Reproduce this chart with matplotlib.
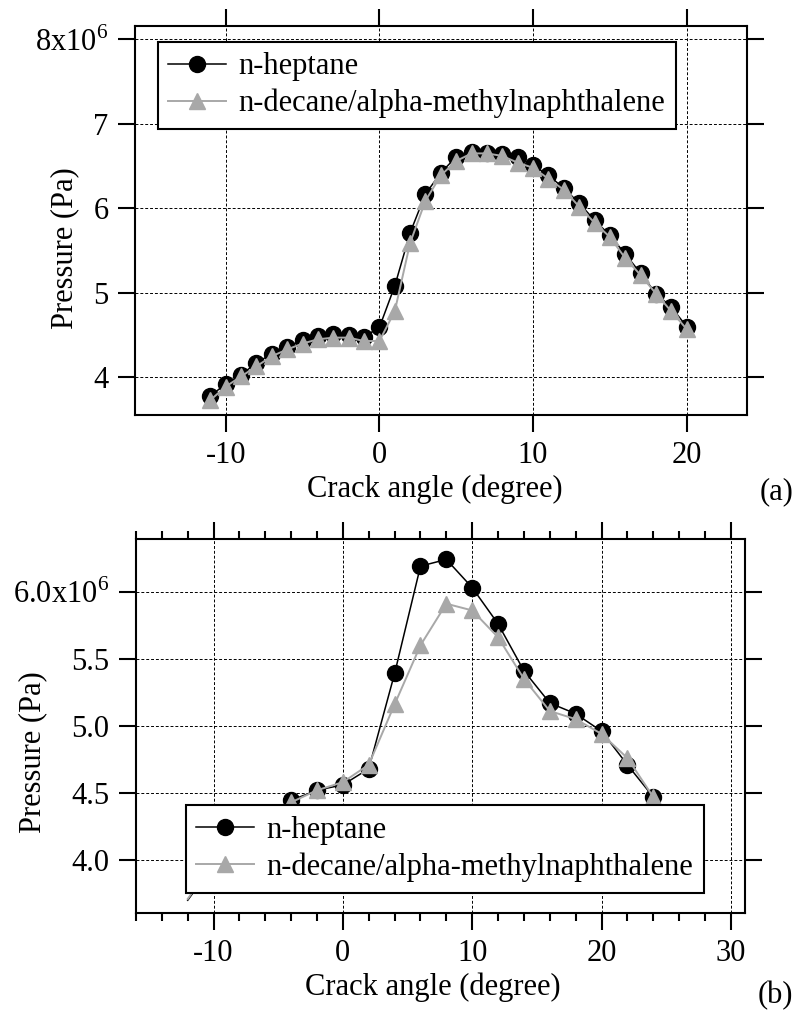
import matplotlib
matplotlib.use("Agg")
import matplotlib.pyplot as plt
from matplotlib.ticker import MultipleLocator, FixedLocator

plt.rcParams['font.family'] = ['Liberation Serif', 'DejaVu Serif']
plt.rcParams['mathtext.fontset'] = 'custom'
plt.rcParams['mathtext.rm'] = 'Liberation Serif'
plt.rcParams['axes.unicode_minus'] = False

# panel (a) data, pressure in units of 1e6 Pa
angle_a = [-11, -10, -9, -8, -7, -6, -5, -4, -3, -2, -1, 0, 1, 2, 3, 4,
           5, 6, 7, 8, 9, 10, 11, 12, 13, 14, 15, 16, 17, 18, 19, 20]
heptane_a = [3.78, 3.92, 4.03, 4.17, 4.28, 4.36, 4.44, 4.49, 4.51, 4.50, 4.48,
             4.59, 5.08, 5.71, 6.17, 6.42, 6.61, 6.67, 6.65, 6.64, 6.61, 6.51,
             6.39, 6.24, 6.06, 5.86, 5.68, 5.46, 5.23, 4.99, 4.83, 4.60]
decane_a = [3.73, 3.89, 4.01, 4.13, 4.25, 4.33, 4.40, 4.45, 4.47, 4.47, 4.43,
            4.43, 4.78, 5.59, 6.09, 6.39, 6.56, 6.65, 6.65, 6.62, 6.54, 6.48,
            6.35, 6.22, 6.02, 5.83, 5.66, 5.41, 5.21, 4.99, 4.78, 4.57]

# panel (b) data (first points sit behind the legend)
angle_b = [-12, -10, -8, -6, -4, -2, 0, 2, 4, 6, 8, 10, 12, 14, 16, 18, 20, 22, 24]
heptane_b = [3.70, 3.97, 4.13, 4.30, 4.445, 4.52, 4.56, 4.68, 5.39, 6.19, 6.24,
             6.03, 5.76, 5.41, 5.17, 5.09, 4.96, 4.71, 4.47]
decane_b = [3.71, 3.98, 4.14, 4.29, 4.43, 4.52, 4.58, 4.71, 5.16, 5.60, 5.91,
            5.86, 5.66, 5.35, 5.11, 5.05, 4.94, 4.76, 4.47]

ticks_a = [4, 5, 6, 7, 8]
ticklabels_a = ['4', '5', '6', '7', '8x10$^{\\mathregular{6}}$']
ticks_b = [4.0, 4.5, 5.0, 5.5, 6.0]
ticklabels_b = ['4.0', '4.5', '5.0', '5.5', '6.0x10$^{\\mathregular{6}}$']

names = ['n-heptane', 'n-decane/alpha-methylnaphthalene']
gray = '#a8a8a8'
fs = 22


def style_axes(ax):
    ax.grid(True, which='major', linestyle=(0, (3, 2)), color='black', linewidth=0.7)
    ax.set_axisbelow(True)
    for s in ax.spines.values():
        s.set_linewidth(1.5)
    ax.tick_params(which='major', direction='out', length=12, width=1.5,
                   top=True, right=True, labelsize=fs, pad=7)
    ax.tick_params(which='minor', direction='out', length=6, width=1.5,
                   top=True, right=True)
    ax.set_xlabel('Crack angle (degree)', fontsize=fs)
    ax.set_ylabel('Pressure (Pa)', fontsize=fs)


def add_legend(ax, anchor):
    leg = ax.legend(names, loc='upper left', bbox_to_anchor=anchor, borderaxespad=0,
                    fancybox=False, edgecolor='black', framealpha=1, fontsize=fs,
                    handlelength=1.9, handletextpad=0.4, borderpad=0.35,
                    labelspacing=0.25)
    leg.get_frame().set_linewidth(1.5)
    leg.set_zorder(10)


fig = plt.figure(figsize=(8, 10.14), dpi=100)

# ---- panel (a)
ax1 = fig.add_axes([0.16875, 0.5907, 0.7646, 0.3836])
ax1.plot(angle_a, heptane_a, color='black', marker='o', ms=11.5, lw=1.1, zorder=3)
ax1.plot(angle_a, decane_a, color=gray, marker='^', ms=12, lw=1.4, zorder=4)
ax1.set_xlim(-15.9, 23.9)
ax1.set_ylim(3.554, 8.157)
ax1.xaxis.set_major_locator(MultipleLocator(10))
ax1.yaxis.set_major_locator(FixedLocator(ticks_a))
ax1.set_yticklabels(ticklabels_a)
style_axes(ax1)
ax1.xaxis.set_label_coords(0.49, -0.152)
ax1.yaxis.set_label_coords(-0.092, 0.43)
add_legend(ax1, (0.0368, 0.960))

# ---- panel (b)
ax2 = fig.add_axes([0.17, 0.0996, 0.7613, 0.3688])
ax2.plot(angle_b, heptane_b, color='black', marker='o', ms=11.5, lw=1.1, zorder=3,
         markevery=slice(1, None))
ax2.plot(angle_b, decane_b, color=gray, marker='^', ms=12, lw=1.4, zorder=4,
         markevery=slice(1, None))
ax2.set_xlim(-16.0, 31.1)
ax2.set_ylim(3.605, 6.392)
ax2.xaxis.set_major_locator(MultipleLocator(10))
ax2.xaxis.set_minor_locator(MultipleLocator(2))
ax2.yaxis.set_major_locator(FixedLocator(ticks_b))
ax2.set_yticklabels(ticklabels_b)
style_axes(ax2)
ax2.xaxis.set_label_coords(0.488, -0.158)
ax2.yaxis.set_label_coords(-0.146, 0.429)
add_legend(ax2, (0.0816, 0.2888))

fig.text(0.992, 0.515, '(a)', ha='right', va='center', fontsize=fs)
fig.text(0.992, 0.0178, '(b)', ha='right', va='center', fontsize=fs)

fig.savefig('out.png', dpi=100)
